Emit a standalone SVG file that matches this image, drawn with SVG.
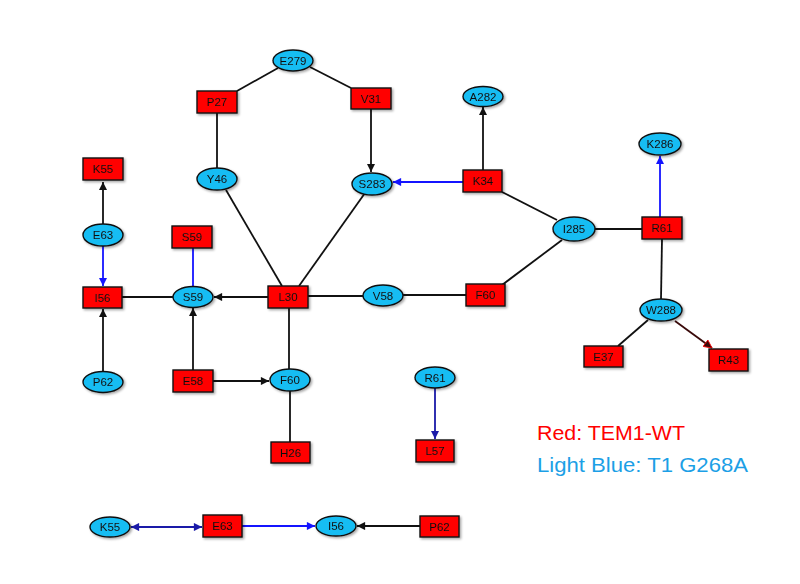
<svg xmlns="http://www.w3.org/2000/svg" width="800" height="584" viewBox="0 0 800 584">
<defs>
<style>
.r{fill:#ff0000;stroke:#111;stroke-width:1.4}
.e{fill:#19bdf3;stroke:#111;stroke-width:1.4}
.t{font-family:"Liberation Sans",Arial,sans-serif;font-size:11.5px;fill:#111;text-anchor:middle;dominant-baseline:central}
.k{stroke:#111;stroke-width:1.8;fill:none}
.b{stroke:#1414ff;stroke-width:1.8;fill:none}
.db{stroke:#1a1aa8;stroke-width:1.8;fill:none}
.dr{stroke:#3a0a0a;stroke-width:1.8;fill:none}
.lg{font-family:"Liberation Sans",Arial,sans-serif;font-size:21px}
</style>
<marker id="ak" viewBox="0 0 10 10" refX="10" refY="5" markerWidth="5" markerHeight="4.5" orient="auto" markerUnits="strokeWidth"><path d="M0,0L10,5L0,10z" fill="#111"/></marker>
<marker id="ab" viewBox="0 0 10 10" refX="10" refY="5" markerWidth="5" markerHeight="4.5" orient="auto" markerUnits="strokeWidth"><path d="M0,0L10,5L0,10z" fill="#1414ff"/></marker>
<marker id="adb" viewBox="0 0 10 10" refX="10" refY="5" markerWidth="5" markerHeight="4.5" orient="auto-start-reverse" markerUnits="strokeWidth"><path d="M0,0L10,5L0,10z" fill="#1a1aa8"/></marker>
<marker id="adr" viewBox="0 0 10 10" refX="10" refY="5" markerWidth="5" markerHeight="4.5" orient="auto" markerUnits="strokeWidth"><path d="M0,0L10,5L0,10z" fill="#3a0a0a" stroke="#ff0000" stroke-width="1"/></marker>
<filter id="sh" x="-20%" y="-20%" width="150%" height="160%"><feDropShadow dx="1.5" dy="1.5" stdDeviation="1.2" flood-color="#000" flood-opacity="0.35"/></filter>
</defs>
<rect width="800" height="584" fill="#fff"/>
<g id="connectors">
<line class="k" x1="278" y1="68" x2="237" y2="91"/>
<line class="k" x1="310" y1="67" x2="351" y2="88"/>
<line class="k" x1="217" y1="113" x2="217" y2="168"/>
<line class="k" x1="371" y1="109" x2="371" y2="172" marker-end="url(#ak)"/>
<line class="b" x1="463" y1="182" x2="393" y2="182" marker-end="url(#ab)"/>
<line class="k" x1="483" y1="170" x2="483" y2="107" marker-end="url(#ak)"/>
<line class="k" x1="502" y1="192" x2="557" y2="220"/>
<line class="k" x1="595" y1="229" x2="642" y2="229"/>
<line class="b" x1="660" y1="217" x2="660" y2="156" marker-end="url(#ab)"/>
<line class="k" x1="662" y1="239" x2="661" y2="299"/>
<line class="k" x1="648" y1="320" x2="618" y2="346"/>
<line class="dr" x1="675" y1="321" x2="712" y2="348" marker-end="url(#adr)"/>
<line class="k" x1="226" y1="190" x2="282" y2="286"/>
<line class="k" x1="365" y1="193" x2="299" y2="286"/>
<line class="k" x1="308" y1="296" x2="363" y2="296"/>
<line class="k" x1="403" y1="295" x2="466" y2="295"/>
<line class="k" x1="502" y1="285" x2="562" y2="240"/>
<line class="k" x1="103" y1="224" x2="103" y2="182" marker-end="url(#ak)"/>
<line class="b" x1="103" y1="246" x2="103" y2="286" marker-end="url(#ab)"/>
<line class="b" x1="193" y1="248" x2="193" y2="287"/>
<line class="k" x1="122" y1="297" x2="173" y2="297"/>
<line class="k" x1="268" y1="297" x2="214" y2="297" marker-end="url(#ak)"/>
<line class="k" x1="103" y1="372" x2="103" y2="309" marker-end="url(#ak)"/>
<line class="k" x1="193" y1="370" x2="193" y2="308" marker-end="url(#ak)"/>
<line class="k" x1="213" y1="381" x2="269" y2="381" marker-end="url(#ak)"/>
<line class="k" x1="289" y1="308" x2="289" y2="369"/>
<line class="k" x1="290" y1="391" x2="290" y2="442"/>
<line class="db" x1="435" y1="388" x2="435" y2="439" marker-end="url(#adb)"/>
<line class="db" x1="131" y1="527" x2="202" y2="527" marker-start="url(#adb)" marker-end="url(#adb)"/>
<line class="b" x1="242" y1="526" x2="315" y2="526" marker-end="url(#ab)"/>
<line class="k" x1="420" y1="526" x2="357" y2="526" marker-end="url(#ak)"/>
</g>
<g id="n-E279" filter="url(#sh)"><ellipse class="e" cx="293" cy="60.5" rx="20" ry="10.5"/><text class="t" x="293" y="60.5">E279</text></g>
<g id="n-P27" filter="url(#sh)"><rect class="r" x="197" y="91" width="40" height="22"/><text class="t" x="217" y="102">P27</text></g>
<g id="n-V31" filter="url(#sh)"><rect class="r" x="351" y="88" width="40" height="21"/><text class="t" x="371" y="98.5">V31</text></g>
<g id="n-Y46" filter="url(#sh)"><ellipse class="e" cx="217" cy="179" rx="20" ry="11"/><text class="t" x="217" y="179">Y46</text></g>
<g id="n-S283" filter="url(#sh)"><ellipse class="e" cx="372" cy="184" rx="20" ry="11"/><text class="t" x="372" y="184">S283</text></g>
<g id="n-A282" filter="url(#sh)"><ellipse class="e" cx="483" cy="96.5" rx="20" ry="10"/><text class="t" x="483" y="96.5">A282</text></g>
<g id="n-K34" filter="url(#sh)"><rect class="r" x="463" y="170" width="39" height="22"/><text class="t" x="483" y="181">K34</text></g>
<g id="n-K286" filter="url(#sh)"><ellipse class="e" cx="660" cy="144" rx="21" ry="11"/><text class="t" x="660" y="144">K286</text></g>
<g id="n-I285" filter="url(#sh)"><ellipse class="e" cx="574" cy="229" rx="21" ry="12"/><text class="t" x="574" y="229">I285</text></g>
<g id="n-R61a" filter="url(#sh)"><rect class="r" x="642" y="217" width="40" height="22"/><text class="t" x="662" y="228">R61</text></g>
<g id="n-W288" filter="url(#sh)"><ellipse class="e" cx="661" cy="310" rx="21" ry="11"/><text class="t" x="661" y="310">W288</text></g>
<g id="n-E37" filter="url(#sh)"><rect class="r" x="584" y="346" width="39" height="21"/><text class="t" x="603.5" y="356.5">E37</text></g>
<g id="n-R43" filter="url(#sh)"><rect class="r" x="709" y="349" width="39" height="22"/><text class="t" x="728.5" y="360">R43</text></g>
<g id="n-K55a" filter="url(#sh)"><rect class="r" x="83" y="158" width="40" height="22"/><text class="t" x="103" y="169">K55</text></g>
<g id="n-E63a" filter="url(#sh)"><ellipse class="e" cx="103" cy="235" rx="20" ry="11"/><text class="t" x="103" y="235">E63</text></g>
<g id="n-I56a" filter="url(#sh)"><rect class="r" x="83" y="287" width="39" height="21"/><text class="t" x="102.5" y="297.5">I56</text></g>
<g id="n-S59a" filter="url(#sh)"><rect class="r" x="172" y="226" width="40" height="22"/><text class="t" x="192" y="237">S59</text></g>
<g id="n-S59b" filter="url(#sh)"><ellipse class="e" cx="193" cy="297" rx="20" ry="10.5"/><text class="t" x="193" y="297">S59</text></g>
<g id="n-L30" filter="url(#sh)"><rect class="r" x="268" y="286" width="40" height="22"/><text class="t" x="288" y="297">L30</text></g>
<g id="n-V58" filter="url(#sh)"><ellipse class="e" cx="383" cy="295.5" rx="20" ry="10.5"/><text class="t" x="383" y="295.5">V58</text></g>
<g id="n-F60a" filter="url(#sh)"><rect class="r" x="466" y="284" width="39" height="22"/><text class="t" x="485.5" y="295">F60</text></g>
<g id="n-P62a" filter="url(#sh)"><ellipse class="e" cx="103" cy="382" rx="20" ry="10.5"/><text class="t" x="103" y="382">P62</text></g>
<g id="n-E58" filter="url(#sh)"><rect class="r" x="173" y="370" width="40" height="22"/><text class="t" x="193" y="381">E58</text></g>
<g id="n-F60b" filter="url(#sh)"><ellipse class="e" cx="290" cy="380" rx="20" ry="11"/><text class="t" x="290" y="380">F60</text></g>
<g id="n-H26" filter="url(#sh)"><rect class="r" x="271" y="442" width="39" height="21"/><text class="t" x="290.5" y="452.5">H26</text></g>
<g id="n-R61b" filter="url(#sh)"><ellipse class="e" cx="435" cy="377.5" rx="20" ry="10.5"/><text class="t" x="435" y="377.5">R61</text></g>
<g id="n-L57" filter="url(#sh)"><rect class="r" x="416" y="440" width="38" height="22"/><text class="t" x="435" y="451">L57</text></g>
<g id="n-K55b" filter="url(#sh)"><ellipse class="e" cx="110" cy="527" rx="20" ry="10"/><text class="t" x="110" y="527">K55</text></g>
<g id="n-E63b" filter="url(#sh)"><rect class="r" x="203" y="515" width="39" height="22"/><text class="t" x="222.5" y="526">E63</text></g>
<g id="n-I56b" filter="url(#sh)"><ellipse class="e" cx="336" cy="526" rx="20" ry="10"/><text class="t" x="336" y="526">I56</text></g>
<g id="n-P62b" filter="url(#sh)"><rect class="r" x="420" y="516" width="39" height="21"/><text class="t" x="439.5" y="526.5">P62</text></g>
<g id="legend">
<text class="lg" x="537" y="440" fill="#ff0000" textLength="148" lengthAdjust="spacingAndGlyphs">Red: TEM1-WT</text>
<text class="lg" x="537" y="472" fill="#1c9fe6" textLength="211" lengthAdjust="spacingAndGlyphs">Light Blue: T1 G268A</text>
</g>
</svg>
